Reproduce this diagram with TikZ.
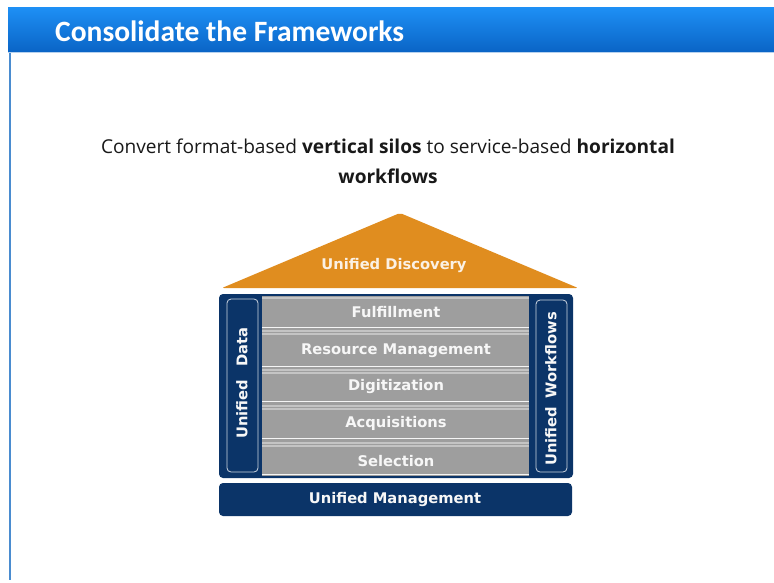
\documentclass[tikz,border=0pt]{standalone}
\usepackage{fontspec}
\setmainfont{Open Sans}
\newfontfamily\headfont{Carlito}
\newfontfamily\bandfont{DejaVu Sans}
\definecolor{navy}{HTML}{0B3468}
\definecolor{bandgray}{HTML}{9E9E9E}
\definecolor{sepgray}{HTML}{C4C4C4}
\definecolor{roof}{HTML}{E08D1F}
\definecolor{headtop}{HTML}{1E90F5}
\definecolor{headbot}{HTML}{0A64C6}
\definecolor{panelline}{HTML}{4A8CD0}
\tikzset{
  bandlabel/.style={font=\bandfont\bfseries\fontsize{14.7}{17}\selectfont, text=white!94!gray, inner sep=0pt},
  colbox/.style={draw=white!80!navy, line width=0.8pt, rounded corners=4pt},
  seplight/.style={draw=sepgray, line width=1.3pt},
  sepwhite/.style={draw=white!92!gray, line width=1pt}
}
\begin{document}
\begin{tikzpicture}[x=1pt,y=-1pt]
\useasboundingbox (0,0) rectangle (774,582);
\fill[white] (0,0) rectangle (774,582);
% panel border
\draw[panelline, line width=1.6pt] (10,52) -- (10,580);
% header
\shade[top color=headtop, bottom color=headbot] (8,7) rectangle (774,52);
\draw[white!70!headbot, line width=0.8pt] (8,52) -- (774,52);
\node[anchor=west, font=\headfont\bfseries\fontsize{29.5}{34}\selectfont, text=white, inner sep=0pt] (title) at (55,31) {Consolidate the Frameworks};
% subtitle
\node[font=\fontsize{19.1}{30}\selectfont, align=center, text=black!90, inner sep=0pt] (sub) at (388,161)
  {Convert format-based \textbf{vertical silos} to service-based \textbf{horizontal}\\ \textbf{workflows}};
% roof
\fill[roof, rounded corners=2pt] (222,288) -- (400,213) -- (578,288) -- cycle;
\node[font=\bandfont\bfseries\fontsize{14.7}{17}\selectfont, text=white!88!roof, inner sep=0pt] (disc) at (394,265) {Unified Discovery};
% frame
\fill[navy, rounded corners=4pt] (219,294) rectangle (573,478);
\node[inner sep=0pt, minimum width=354pt, minimum height=184pt] (frame) at (396,386) {};
\fill[bandgray] (262,296) rectangle (529,476);
% separators
\foreach \w/\l in {298/0, 327/331, 366/370, 401/406, 438/443} {
  \ifnum\l>0
    \draw[sepwhite] (262,\w) -- (529,\w);
    \draw[seplight] (262,\l) -- (529,\l);
    \draw[seplight] (262,\l+3) -- (529,\l+3);
  \else
    \draw[seplight] (262,\w) -- (529,\w);
  \fi
}
\draw[sepwhite] (262,474) -- (529,474);
% band labels
\node[bandlabel] (ful) at (396,312) {Fulfillment};
\node[bandlabel] (res) at (396,351) {Resource Management};
\node[bandlabel] (dig) at (396,386) {Digitization};
\node[bandlabel] (acq) at (396,423) {Acquisitions};
\node[bandlabel] (sel) at (396,461) {Selection};
% columns
\draw[colbox] (227,299) rectangle (258,472);
\node[bandlabel, rotate=90] (udata) at (242,383) {Unified\hspace{0.9em}Data};
\draw[colbox] (536,300) rectangle (567,472);
\node[bandlabel, rotate=90] (uwork) at (551,389) {Unified\hspace{0.6em}Workflows};
% management
\fill[navy, rounded corners=4pt] (219,483) rectangle (572,516);
\node[bandlabel] (mgmt) at (395,499) {Unified Management};
\end{tikzpicture}
\end{document}
